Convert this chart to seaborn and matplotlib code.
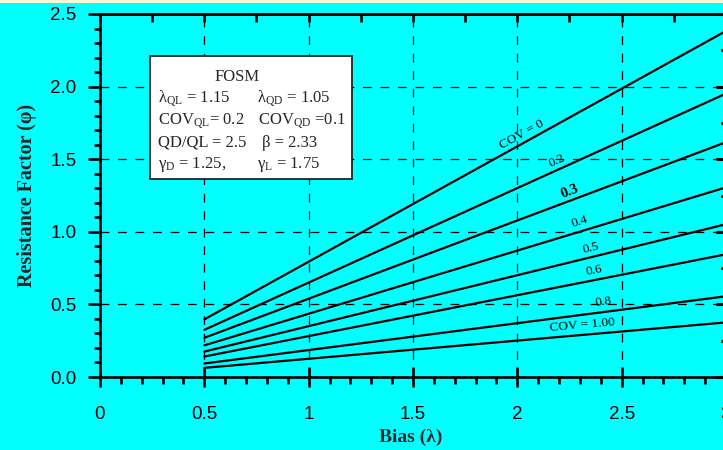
import numpy as np
import pandas as pd
import matplotlib
matplotlib.use("Agg")
import matplotlib.pyplot as plt
import seaborn as sns
from matplotlib.patches import Rectangle
from matplotlib.ticker import MultipleLocator

# ---------------- data ----------------
bias = [0.5, 3.0]
cov_names = ["COV = 0", "0.2", "0.3", "0.4", "0.5", "0.6", "0.8", "COV = 1.00"]
phi_at_bias_05 = [0.397, 0.325, 0.270, 0.218, 0.175, 0.141, 0.093, 0.063]
phi_at_bias_30 = [2.383, 1.952, 1.617, 1.306, 1.052, 0.845, 0.556, 0.376]
label_bias = [2.02, 2.19, 2.25, 2.30, 2.35, 2.37, 2.41, 2.31]
label_bold = [False, False, True, False, False, False, False, False]

x_ticks = [0, 0.5, 1, 1.5, 2, 2.5, 3]
x_tick_labels = ["0", "0.5", "1", "1.5", "2", "2.5", "3"]
y_ticks = [0.0, 0.5, 1.0, 1.5, 2.0, 2.5]
y_tick_labels = ["0.0", "0.5", "1.0", "1.5", "2.0", "2.5"]

box_title = "FOSM"
box_left = ["λ$_{\\rm QL}$ = 1.15", "COV$_{\\rm QL}$= 0.2", "QD/QL = 2.5", "γ$_{\\rm D}$ = 1.25,"]
box_right = ["λ$_{\\rm QD}$ = 1.05", "COV$_{\\rm QD}$ =0.1", "β = 2.33", "γ$_{\\rm L}$ = 1.75"]

rows = []
for name, a, b in zip(cov_names, phi_at_bias_05, phi_at_bias_30):
    rows.append({"Bias": bias[0], "Phi": a, "COV": name})
    rows.append({"Bias": bias[1], "Phi": b, "COV": name})
df = pd.DataFrame(rows)

# ---------------- style ----------------
sns.set_theme(style="ticks")
CYAN = "#00FFFF"
plt.rcParams.update({
    "font.family": ["Liberation Sans", "DejaVu Sans"],
    "mathtext.fontset": "custom",
    "mathtext.rm": "Liberation Serif",
    "mathtext.it": "Liberation Serif:italic",
    "mathtext.bf": "Liberation Serif:bold",
    "axes.edgecolor": "black",
    "xtick.color": "black",
    "ytick.color": "black",
})
SERIF = ["Liberation Serif", "DejaVu Serif"]

fig = plt.figure(figsize=(7.23, 4.5), dpi=100, facecolor=CYAN)
fig.patches.append(Rectangle((0, 1 - 3 / 450), 1, 3 / 450, transform=fig.transFigure,
                             facecolor="#FAF8D2", edgecolor="none", zorder=0))
ax = fig.add_axes([0.13831, 0.16222, 0.86584, 0.80667])
ax.set_facecolor(CYAN)

sns.lineplot(data=df, x="Bias", y="Phi", hue="COV", palette={n: "black" for n in cov_names},
             legend=False, linewidth=1.6, ax=ax, zorder=3)

ax.set_xlim(0, 3)
ax.set_ylim(0, 2.5)

for s in ax.spines.values():
    s.set_linewidth(1.9)
    s.set_color("black")

ax.set_xticks(x_ticks)
ax.set_xticklabels(x_tick_labels, fontsize=13.5)
ax.set_yticks(y_ticks)
ax.set_yticklabels(y_tick_labels, fontsize=13.5)
ax.xaxis.set_minor_locator(MultipleLocator(0.1))
ax.yaxis.set_minor_locator(MultipleLocator(0.1))
ax.tick_params(axis="x", which="major", direction="inout", length=14, width=1.9, pad=14)
ax.tick_params(axis="x", which="minor", direction="out", length=5, width=1.9)
ax.tick_params(axis="y", which="major", direction="out", length=9, width=1.9, pad=8)
ax.tick_params(axis="y", which="minor", direction="out", length=4.5, width=1.9)

ax.grid(True, which="major", color="black", linestyle=(0, (7, 7)), linewidth=0.9)
ax.set_axisbelow(True)

# top / right ticks
secx = ax.secondary_xaxis("top")
secx.set_xticks(np.arange(0, 3.01, 0.25))
secx.tick_params(direction="in", length=6, width=1.9, labeltop=False)
secx.spines["top"].set_linewidth(1.9)
secy = ax.secondary_yaxis("right")
secy.set_yticks(y_ticks)
secy.yaxis.set_minor_locator(MultipleLocator(0.25))
secy.tick_params(which="major", direction="in", length=7, width=2.2, labelright=False)
secy.tick_params(which="minor", direction="in", length=3.5, width=2.2)
secy.spines["right"].set_linewidth(1.9)

ax.set_xlabel("Bias (λ)", family=SERIF, fontweight="bold", fontsize=14)
ax.set_ylabel("Resistance Factor (φ)", family=SERIF, fontweight="bold", fontsize=14.5)
ax.xaxis.set_label_coords(0.497, -0.165)
ax.xaxis.label.set_va("center")
ax.yaxis.set_label_coords(-0.117, 0.5)
ax.yaxis.label.set_va("center")

# line labels
for name, a, b, lx, bold in zip(cov_names, phi_at_bias_05, phi_at_bias_30, label_bias, label_bold):
    p1 = ax.transData.transform((bias[0], a))
    p2 = ax.transData.transform((bias[1], b))
    ang = np.degrees(np.arctan2(p2[1] - p1[1], p2[0] - p1[0]))
    ly = a + (b - a) * (lx - bias[0]) / (bias[1] - bias[0])
    ax.annotate(name, (lx, ly), xytext=(0, 7), textcoords="offset points",
                ha="center", va="center", rotation=ang, rotation_mode="anchor",
                family=SERIF, fontsize=10.5 if bold else 9.5,
                fontweight="bold" if bold else "normal",
                color="black", zorder=4)

# info box
ax.add_patch(Rectangle((0.0799, 0.545), 0.3227, 0.339, transform=ax.transAxes,
                       facecolor="white", edgecolor="#222222", linewidth=1.3, zorder=5))
ax.text(0.219, 0.8154, box_title, transform=ax.transAxes, ha="center", va="baseline",
        family=SERIF, fontsize=12, zorder=6)
row_y = [0.7567, 0.6942, 0.6344, 0.5749]
right_x = [0.2508, 0.2524, 0.2588, 0.2508]
for ry, lt, rt, rx in zip(row_y, box_left, box_right, right_x):
    ax.text(0.0927, ry, lt, transform=ax.transAxes, ha="left", va="baseline",
            family=SERIF, fontsize=12, zorder=6)
    ax.text(rx, ry, rt, transform=ax.transAxes, ha="left", va="baseline",
            family=SERIF, fontsize=12, zorder=6)

fig.savefig("out.png", dpi=100, facecolor=CYAN)
